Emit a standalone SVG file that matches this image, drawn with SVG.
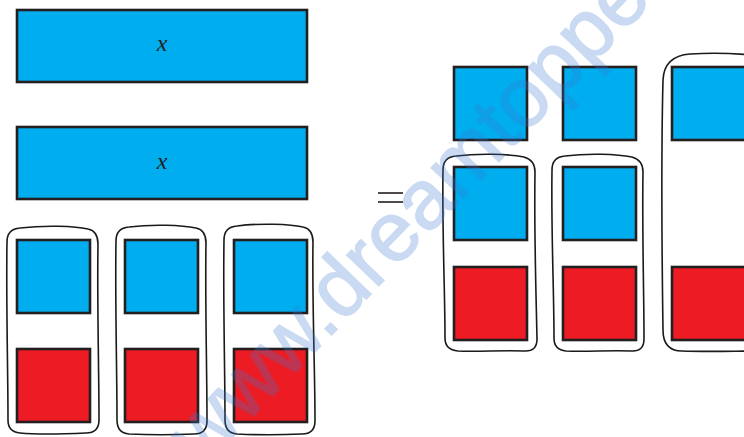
<svg xmlns="http://www.w3.org/2000/svg" width="744" height="437" viewBox="0 0 744 437">
<style>
.b{fill:#00aeef;stroke:#231f20;stroke-width:2.6}
.r{fill:#ed1c24;stroke:#231f20;stroke-width:2.6}
.o{fill:none;stroke:#1a1a1a;stroke-width:1.6;stroke-linejoin:round}
.lbl{font-family:"Liberation Serif",serif;font-style:italic;font-size:24px;fill:#231f20}
.wm{font-family:"Liberation Sans",Arial,sans-serif;font-size:84px;fill:#3a78d0;opacity:0.27;stroke:#3a78d0;stroke-width:1.5}
</style>
<rect width="744" height="437" fill="#ffffff"/>
<g id="bar1">
<rect class="b" x="17" y="10" width="290" height="72"/>
<text class="lbl" x="162" y="51" text-anchor="middle">x</text>
</g>
<g id="bar2">
<rect class="b" x="17" y="127" width="290" height="72"/>
<text class="lbl" x="162" y="169" text-anchor="middle">x</text>
</g>
<g id="left1">
<path class="o" d="M20,228 C45,225 75,226 88,229 Q98,231 98,244 C97,300 99,370 99,420 Q99,433 86,433 C65,434 40,435 20,433 Q8,432 8,420 C8,370 6,300 7,242 Q7,229 20,228 Z"/>
<rect class="b" x="17" y="240" width="73" height="73"/>
<rect class="r" x="17" y="349" width="73" height="73"/>
</g>
<g id="left2">
<path class="o" d="M129,227 C152,224 182,225 196,228 Q206,230 206,243 C205,300 207,370 207,421 Q207,434 194,434 C172,435 150,435 129,434 Q117,433 117,420 C117,370 115,300 116,241 Q116,228 129,227 Z"/>
<rect class="b" x="125" y="240" width="73" height="73"/>
<rect class="r" x="125" y="349" width="73" height="73"/>
</g>
<g id="left3">
<path class="o" d="M237,226 C260,223 290,224 303,227 Q313,229 313,242 C312,300 315,370 315,421 Q315,434 302,434 C280,435 258,435 237,434 Q225,433 225,420 C225,370 223,300 224,240 Q224,227 237,226 Z"/>
<rect class="b" x="234" y="240" width="73" height="73"/>
<rect class="r" x="234" y="349" width="73" height="73"/>
</g>
<g id="equals">
<line x1="378" y1="193" x2="403" y2="193" stroke="#231f20" stroke-width="1.6"/>
<line x1="378" y1="202" x2="403" y2="202" stroke="#231f20" stroke-width="1.6"/>
</g>
<g id="right1">
<path class="o" d="M456,156 C480,153 508,154 524,157 Q535,160 535,172 C534,230 536,290 537,339 Q537,352 524,351 C502,350 478,352 458,351 Q445,350 445,338 C445,290 442,230 443,170 Q443,157 456,156 Z"/>
<rect class="b" x="454" y="67" width="73" height="73"/>
<rect class="b" x="454" y="167" width="73" height="73"/>
<rect class="r" x="454" y="267" width="73" height="73"/>
</g>
<g id="right2">
<path class="o" d="M565,156 C588,153 617,154 632,157 Q643,160 643,172 C642,230 644,290 644,339 Q644,352 631,351 C610,350 587,352 566,351 Q554,350 554,338 C554,290 551,230 552,170 Q552,157 565,156 Z"/>
<rect class="b" x="563" y="67" width="73" height="73"/>
<rect class="b" x="563" y="167" width="73" height="73"/>
<rect class="r" x="563" y="267" width="73" height="73"/>
</g>
<g id="right3">
<path class="o" d="M760,56 C735,53 705,53 690,54 Q664,56 663,80 C661,160 662,260 663,330 Q663,351 682,351 C710,352 735,351 760,351"/>
<rect class="b" x="672" y="67" width="80" height="73"/>
<rect class="r" x="672" y="267" width="80" height="73"/>
</g>
<text class="wm" transform="translate(203,468) rotate(-46)">www.dreamtopper</text>
</svg>
